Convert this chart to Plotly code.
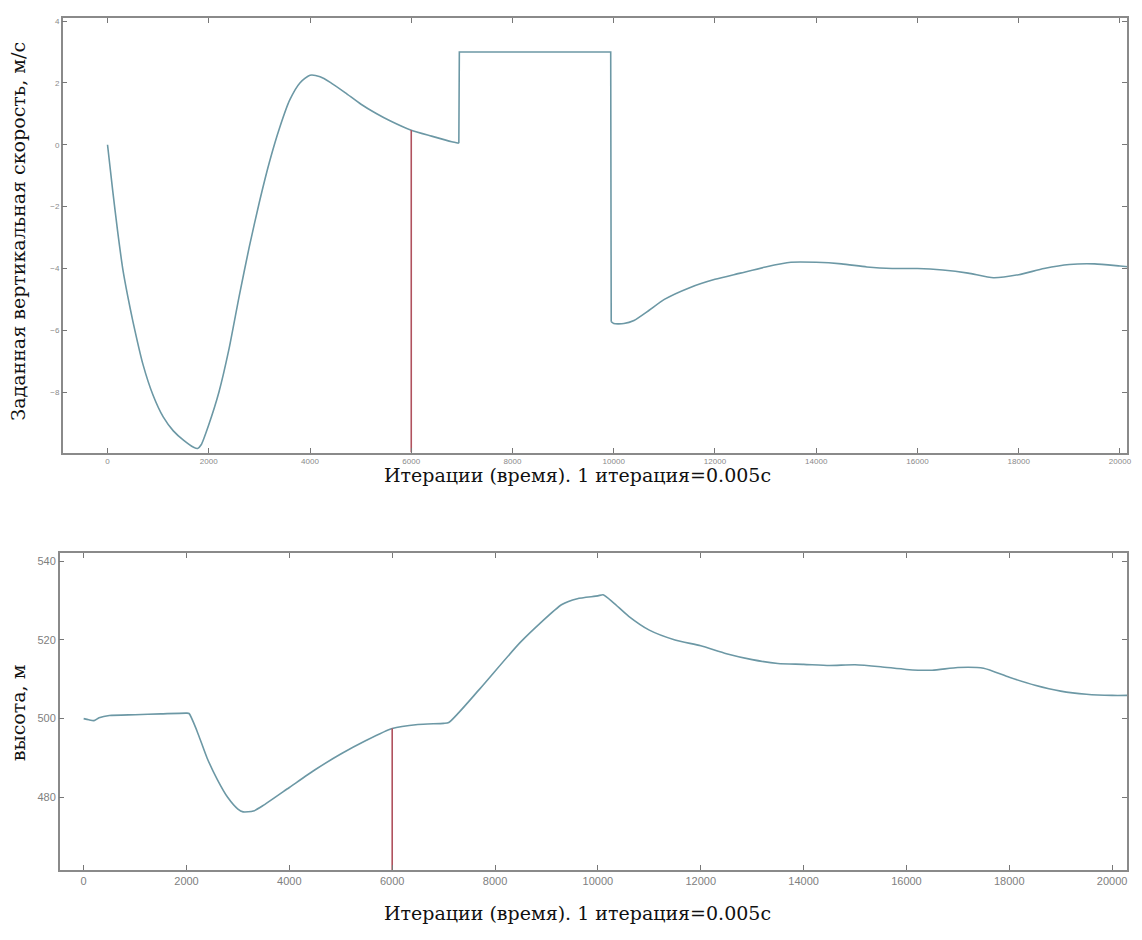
import plotly.graph_objects as go

# --- Commanded vertical speed, m/s (per iteration) ---
speed_iter = [0, 100, 200, 300, 400, 500, 700, 900, 1100, 1300, 1500, 1700, 1780, 1850,
              2000, 2200, 2400, 2600, 2800, 3000, 3200, 3400, 3600, 3800, 4000, 4200,
              4400, 4700, 5000, 5300, 5600, 6000, 6400, 6800, 6940, 6950, 7000, 9900,
              9940, 9950, 10000, 10200, 10400, 10700, 11000, 11500, 12000, 12500, 13000,
              13500, 14000, 14500, 15000, 15500, 16000, 16500, 17000, 17500, 18000,
              18500, 19000, 19500, 20000, 20200]
speed_val = [0.0, -1.45, -2.8, -4.0, -4.9, -5.7, -7.1, -8.1, -8.8, -9.25, -9.55, -9.78, -9.82, -9.7,
             -9.05, -8.0, -6.6, -4.9, -3.3, -1.85, -0.55, 0.55, 1.45, 2.0, 2.25, 2.2,
             2.02, 1.68, 1.32, 1.02, 0.76, 0.47, 0.28, 0.1, 0.05, 3.0, 3.0, 3.0,
             3.0, -5.72, -5.78, -5.78, -5.68, -5.35, -5.0, -4.62, -4.35, -4.15, -3.95,
             -3.8, -3.8, -3.85, -3.95, -4.0, -4.0, -4.05, -4.15, -4.3, -4.2,
             -4.0, -3.87, -3.85, -3.92, -3.95]

# Iterations where the commanded speed switches abruptly (start / end of the plateau)
step_up_iter = 6940
step_down_iter = 9950

# --- Altitude, m (per iteration) ---
alt_iter = [0, 100, 200, 300, 500, 1000, 1500, 2000, 2050, 2200, 2400, 2600, 2800, 3000,
            3100, 3300, 3500, 4000, 4500, 5000, 5500, 6000, 6500, 7000, 7100, 7700,
            8500, 9300, 9600, 10000, 10100, 10300, 10600, 11000, 11500, 12000, 12500,
            13000, 13500, 14000, 14500, 15000, 15500, 16000, 16500, 17000, 17500,
            18000, 18500, 19000, 19500, 20000, 20300]
alt_val = [500.0, 499.7, 499.5, 500.2, 500.8, 501.0, 501.2, 501.4, 501.3, 497.0, 490.0, 484.5, 480.0, 477.0,
           476.3, 476.5, 478.0, 482.5, 487.0, 491.0, 494.5, 497.5, 498.5, 498.8, 499.0, 507.5,
           519.5, 529.0, 530.5, 531.2, 531.5, 529.5, 526.0, 522.5, 520.0, 518.5, 516.5,
           515.0, 514.0, 513.8, 513.5, 513.7, 513.2, 512.5, 512.3, 513.0, 512.8,
           510.5, 508.5, 507.0, 506.2, 505.9, 505.9]

# Marker iteration and the values where the marker meets each curve
marker_iter = 6000
marker_speed = 0.47
marker_alt = 497.5

speed_ticks = [-8, -6, -4, -2, 0, 2, 4]
alt_ticks = [480, 500, 520, 540]
iter_ticks = list(range(0, 20001, 2000))
iter_labels = [str(v) for v in iter_ticks]

speed_range = [-9.95, 4.1]
alt_range = [461.5, 542.0]

curve_color = "#6c98a5"
marker_color = "#b0525e"
axis_color = "#8a8a8a"
tick_small = dict(family="Arial, Liberation Sans, sans-serif", size=8, color="#8a8a8a")
tick_large = dict(family="Arial, Liberation Sans, sans-serif", size=11, color="#808080")
title_font = dict(family="DejaVu Serif, Liberation Serif, serif", size=19, color="#111111")

fig = go.Figure()

# Speed curve: smooth parts drawn as splines, the plateau with straight edges
i_up = speed_iter.index(step_up_iter)
i_down = speed_iter.index(step_down_iter)
smooth_line = dict(color=curve_color, width=1.6, shape="spline", smoothing=0.6)
sharp_line = dict(color=curve_color, width=1.6, shape="linear")
segments = [
    (speed_iter[:i_up + 1], speed_val[:i_up + 1], smooth_line),
    (speed_iter[i_up:i_down + 1], speed_val[i_up:i_down + 1], sharp_line),
    (speed_iter[i_down:], speed_val[i_down:], smooth_line),
]
for xs, ys, ln in segments:
    fig.add_trace(go.Scatter(x=xs, y=ys, mode="lines", line=ln,
                             xaxis="x", yaxis="y", showlegend=False))
fig.add_trace(go.Scatter(x=[marker_iter, marker_iter], y=[speed_range[0], marker_speed],
                         mode="lines", line=dict(color=marker_color, width=1.6),
                         xaxis="x", yaxis="y", showlegend=False))

fig.add_trace(go.Scatter(x=alt_iter, y=alt_val, mode="lines", line=smooth_line,
                         xaxis="x2", yaxis="y2", showlegend=False))
fig.add_trace(go.Scatter(x=[marker_iter, marker_iter], y=[alt_range[0], marker_alt],
                         mode="lines", line=dict(color=marker_color, width=1.6),
                         xaxis="x2", yaxis="y2", showlegend=False))

axis_common = dict(showgrid=False, zeroline=False, showline=True, linecolor=axis_color,
                   linewidth=1.5, mirror="ticks", ticks="inside", ticklen=5,
                   tickcolor="#777777")

W, H = 1142, 940

fig.update_layout(
    width=W, height=H,
    margin=dict(l=0, r=0, t=0, b=0),
    paper_bgcolor="white", plot_bgcolor="white",
    xaxis=dict(domain=[63 / W, 1132 / W], anchor="y", range=[-885, 20140],
               tickvals=iter_ticks, ticktext=iter_labels, tickfont=tick_small, **axis_common),
    yaxis=dict(domain=[1 - 452 / H, 1 - 17 / H], anchor="x", range=speed_range,
               tickvals=speed_ticks, tickfont=tick_small, **axis_common),
    xaxis2=dict(domain=[60 / W, 1132 / W], anchor="y2", range=[-465, 20290],
                tickvals=iter_ticks, ticktext=iter_labels, tickfont=tick_large, **axis_common),
    yaxis2=dict(domain=[1 - 870 / H, 1 - 553 / H], anchor="x2", range=alt_range,
                tickvals=alt_ticks, tickfont=tick_large, **axis_common),
)

x_title = "Итерации (время). 1 итерация=0.005с"
fig.add_annotation(text=x_title, xref="paper", yref="paper",
                   x=580 / W, y=1 - 475 / H, showarrow=False, font=title_font,
                   xanchor="center", yanchor="middle")
fig.add_annotation(text=x_title, xref="paper", yref="paper",
                   x=580 / W, y=1 - 913 / H, showarrow=False, font=title_font,
                   xanchor="center", yanchor="middle")
fig.add_annotation(text="Заданная вертикальная скорость, м/с", xref="paper", yref="paper",
                   x=18 / W, y=1 - 230 / H, showarrow=False, font=title_font,
                   textangle=-90, xanchor="center", yanchor="middle")
fig.add_annotation(text="высота, м", xref="paper", yref="paper",
                   x=18 / W, y=1 - 712 / H, showarrow=False, font=title_font,
                   textangle=-90, xanchor="center", yanchor="middle")

fig.write_html("out.html")
